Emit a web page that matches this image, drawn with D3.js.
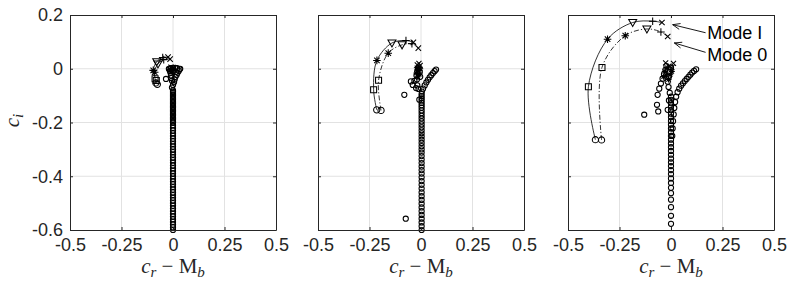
<!DOCTYPE html>
<html>
<head>
<meta charset="utf-8">
<script src="https://cdnjs.cloudflare.com/ajax/libs/d3/7.8.5/d3.min.js"></script>
<style>
  body { margin: 0; background: #fff; }
  svg { display: block; }
</style>
</head>
<body>
<script>
// axis ticks
const xTicks = [-0.5, -0.25, 0, 0.25, 0.5];
const xTickLabels = ["-0.5", "-0.25", "0", "0.25", "0.5"];
const yTicks = [0.2, 0, -0.2, -0.4, -0.6];
const yTickLabels = ["0.2", "0", "-0.2", "-0.4", "-0.6"];

// marker sequence along each mode curve
const modeMarkers = ["o", "s", "*", "v", "+", "x"];

// ---- left panel
const p1ModeI = [[-0.083,-0.053],[-0.087,-0.037],[-0.096,-0.006],[-0.079,0.026],[-0.050,0.042],[-0.024,0.043]];
const p1Mode0 = [[-0.076,-0.058],[-0.081,-0.044],[-0.089,-0.013],[-0.073,0.018],[-0.045,0.034],[-0.014,0.036]];
const p1Trunk = [-0.60,-0.59,-0.58,-0.57,-0.56,-0.55,-0.54,-0.53,-0.52,-0.51,-0.50,-0.49,-0.48,-0.47,-0.46,-0.45,-0.44,-0.43,-0.42,-0.41,
  -0.40,-0.39,-0.38,-0.37,-0.36,-0.35,-0.34,-0.33,-0.32,-0.31,-0.30,-0.29,-0.28,-0.27,-0.26,-0.25,-0.24,-0.23,-0.22,-0.21,
  -0.20,-0.195,-0.19,-0.185,-0.18,-0.175,-0.17,-0.165,-0.16,-0.155,-0.15,-0.145,-0.14,-0.135,-0.13,-0.125,-0.12,-0.115,
  -0.11,-0.105,-0.10,-0.095,-0.09,-0.085,-0.08];
const p1Circles = [[-0.005,-0.070],[0.000,-0.060],[0.005,-0.050],[-0.005,-0.045],[0.008,-0.040],[-0.008,-0.035],[0.012,-0.030],
  [-0.010,-0.025],[0.018,-0.022],[-0.012,-0.015],[0.022,-0.015],[-0.015,-0.008],[0.028,-0.008],[-0.018,-0.002],[0.032,-0.002],
  [-0.010,0.002],[0.000,0.003],[0.010,0.003],[0.020,0.002],[0.035,0.000],[-0.020,0.000],[-0.034,-0.038]];
const p1Stars = [[-0.012,-0.005],[-0.004,-0.012],[0.004,-0.004]];
const p1Crosses = [[-0.010,0.006],[0.002,0.004]];

// ---- middle panel
const p2ModeI = [[-0.215,-0.153],[-0.230,-0.078],[-0.214,0.031],[-0.141,0.096],[-0.073,0.105],[-0.037,0.098]];
const p2Mode0 = [[-0.194,-0.155],[-0.206,-0.043],[-0.159,0.058],[-0.092,0.089],[-0.044,0.093],[-0.013,0.077]];
const p2Trunk = [-0.600,-0.586,-0.572,-0.558,-0.544,-0.530,-0.516,-0.502,-0.488,-0.474,-0.460,-0.446,-0.432,-0.418,-0.404,
  -0.390,-0.377,-0.364,-0.351,-0.338,-0.325,-0.312,-0.300,-0.288,-0.276,-0.264,-0.252,-0.240,-0.229,-0.218,-0.207,
  -0.196,-0.185,-0.175,-0.165,-0.155,-0.145,-0.136,-0.127,-0.118,-0.110,-0.102,-0.094];
const p2Circles = [[0.004,-0.085],[0.010,-0.074],[0.018,-0.062],[0.026,-0.051],[0.034,-0.041],[0.042,-0.032],[0.050,-0.024],
  [0.058,-0.016],[0.066,-0.009],[0.073,-0.003],
  [-0.012,-0.075],[-0.018,-0.062],[-0.024,-0.072],[-0.040,-0.060],[-0.049,-0.047],[-0.032,-0.045],[-0.020,-0.040],
  [-0.022,-0.025],[-0.018,-0.010],[-0.014,0.002],[-0.006,-0.012],[-0.004,-0.030],[-0.008,-0.115],
  [-0.081,-0.097],[-0.074,-0.558]];
const p2Stars = [[-0.020,0.004],[-0.014,-0.006],[-0.022,-0.016],[-0.008,-0.020],[-0.016,-0.030],[-0.004,0.000]];
const p2Crosses = [[-0.018,0.014],[-0.004,0.012],[-0.010,0.020]];

// ---- right panel
const p3ModeI = [[-0.367,-0.264],[-0.401,-0.067],[-0.308,0.110],[-0.186,0.172],[-0.089,0.177],[-0.044,0.172]];
const p3Mode0 = [[-0.337,-0.265],[-0.335,0.005],[-0.222,0.123],[-0.117,0.148],[-0.049,0.137],[-0.016,0.120]];
const p3Trunk = [-0.577,-0.547,-0.515,-0.487,-0.463,-0.443,-0.425,-0.408,-0.392,-0.377,-0.362,-0.348,-0.334,-0.320,-0.306,
  -0.292,-0.278,-0.264,-0.250,-0.236,-0.222,-0.208,-0.194,-0.180,-0.167,-0.154,-0.141,-0.128,-0.116,-0.104];
const p3Circles = [[0.006,-0.250],[0.008,-0.222],[0.010,-0.195],[0.013,-0.170],[0.016,-0.146],[0.020,-0.124],[0.025,-0.104],
  [0.032,-0.087],[0.040,-0.074],[0.049,-0.063],[0.058,-0.054],[0.067,-0.046],[0.076,-0.038],[0.085,-0.030],[0.094,-0.022],
  [0.103,-0.014],[0.112,-0.008],[0.122,-0.002],
  [-0.065,-0.097],[-0.057,-0.074],[-0.049,-0.055],[-0.041,-0.037],[-0.034,-0.020],[-0.027,-0.004],[-0.022,0.010],
  [-0.016,-0.153],[-0.010,-0.118],[-0.006,-0.090],[-0.012,-0.068],[-0.016,-0.048],[-0.010,-0.030],[-0.006,-0.012],[0.000,0.004],
  [-0.130,-0.171],[-0.068,-0.134],[-0.062,-0.159]];
const p3Stars = [[-0.030,-0.010],[-0.024,-0.024],[-0.036,-0.030],[-0.012,-0.040],[-0.004,-0.022],[-0.018,0.004],[0.004,-0.010]];
const p3Crosses = [[-0.026,0.022],[0.012,0.020],[-0.010,0.010],[0.004,0.004]];

// annotation (right panel), data coords: label position, arrow tail, arrow head
const annLabels = ["Mode I", "Mode 0"];
const annText = [[0.176, 0.110], [0.176, 0.030]];
const annTail = [[0.168, 0.134], [0.168, 0.061]];
const annHead = [[0.008, 0.164], [0.016, 0.096]];

const panels = [
  { modeI: p1ModeI, mode0: p1Mode0, trunk: p1Trunk, trunkCr: 0.0, circles: p1Circles, stars: p1Stars, crosses: p1Crosses },
  { modeI: p2ModeI, mode0: p2Mode0, trunk: p2Trunk, trunkCr: 0.003, circles: p2Circles, stars: p2Stars, crosses: p2Crosses },
  { modeI: p3ModeI, mode0: p3Mode0, trunk: p3Trunk, trunkCr: 0.0, circles: p3Circles, stars: p3Stars, crosses: p3Crosses }
];

const W = 789, H = 285;
const panelLeft = [70, 318, 568];
const panelTop = 15, pw = 206, ph = 215;
const axisColor = "#262626";
const gridColor = "#e2e2e2";
const sans = "'Liberation Sans', Arial, sans-serif";
const serif = "'Liberation Serif', 'Times New Roman', serif";

const svg = d3.select("body").append("svg")
  .attr("width", W).attr("height", H);

function markerPath(type, s) {
  const p = d3.path();
  if (type === "o") { p.moveTo(s, 0); p.arc(0, 0, s, 0, 2 * Math.PI); }
  else if (type === "s") { p.rect(-s, -s, 2 * s, 2 * s); }
  else if (type === "v") { p.moveTo(-s, -s * 0.75); p.lineTo(s, -s * 0.75); p.lineTo(0, s); p.closePath(); }
  else if (type === "+") { p.moveTo(-s, 0); p.lineTo(s, 0); p.moveTo(0, -s); p.lineTo(0, s); }
  else if (type === "x") { const a = s * 0.8; p.moveTo(-a, -a); p.lineTo(a, a); p.moveTo(-a, a); p.lineTo(a, -a); }
  else if (type === "*") {
    const a = s * 0.72;
    p.moveTo(-s, 0); p.lineTo(s, 0); p.moveTo(0, -s); p.lineTo(0, s);
    p.moveTo(-a, -a); p.lineTo(a, a); p.moveTo(-a, a); p.lineTo(a, -a);
  }
  return p.toString();
}
const markerSize = { o: 3.1, s: 3, "*": 3.8, v: 4, "+": 3.8, x: 3.4 };

panels.forEach((p, i) => {
  const g = svg.append("g").attr("transform", `translate(${panelLeft[i]},${panelTop})`);
  const x = d3.scaleLinear().domain([-0.5, 0.5]).range([0, pw]);
  const y = d3.scaleLinear().domain([-0.6, 0.2]).range([ph, 0]);

  // grid
  g.append("g").selectAll("line").data(xTicks.slice(1, -1)).join("line")
    .attr("x1", d => x(d)).attr("x2", d => x(d)).attr("y1", 0).attr("y2", ph)
    .attr("stroke", gridColor).attr("stroke-width", 1);
  g.append("g").selectAll("line").data(yTicks.slice(1, -1)).join("line")
    .attr("y1", d => y(d)).attr("y2", d => y(d)).attr("x1", 0).attr("x2", pw)
    .attr("stroke", gridColor).attr("stroke-width", 1);

  // spectrum
  const trunkPts = p.trunk.map(ci => [p.trunkCr, ci]);
  const spec = g.append("g").attr("fill", "none").attr("stroke", "#000").attr("stroke-width", 1.05);
  spec.selectAll("circle").data(trunkPts.concat(p.circles)).join("circle")
    .attr("cx", d => x(d[0])).attr("cy", d => y(d[1])).attr("r", 2.6);
  spec.selectAll("path.st").data(p.stars).join("path").attr("class", "st")
    .attr("transform", d => `translate(${x(d[0])},${y(d[1])})`)
    .attr("d", markerPath("*", 3));
  spec.selectAll("path.cr").data(p.crosses).join("path").attr("class", "cr")
    .attr("transform", d => `translate(${x(d[0])},${y(d[1])})`)
    .attr("d", markerPath("x", 3.2));

  // mode curves
  const line = d3.line().x(d => x(d[0])).y(d => y(d[1])).curve(d3.curveCatmullRom.alpha(0.5));
  g.append("path").datum(p.modeI).attr("d", line)
    .attr("fill", "none").attr("stroke", "#000").attr("stroke-width", 0.8);
  g.append("path").datum(p.mode0).attr("d", line)
    .attr("fill", "none").attr("stroke", "#000").attr("stroke-width", 0.8)
    .attr("stroke-dasharray", "5,2,1.2,2");

  [p.modeI, p.mode0].forEach(pts => {
    g.append("g").selectAll("path").data(pts).join("path")
      .attr("transform", d => `translate(${x(d[0])},${y(d[1])})`)
      .attr("d", (d, k) => markerPath(modeMarkers[k], markerSize[modeMarkers[k]]))
      .attr("fill", "none").attr("stroke", "#000").attr("stroke-width", 1.05);
  });

  // axes
  const styleAxis = sel => {
    sel.attr("font-family", sans).attr("font-size", 18);
    sel.selectAll("path.domain").attr("stroke", axisColor);
    sel.selectAll(".tick line").attr("stroke", axisColor);
    sel.selectAll(".tick text").attr("fill", "#262626");
  };
  g.append("g").attr("transform", `translate(0,${ph})`)
    .call(d3.axisBottom(x).tickValues(xTicks).tickFormat((d, k) => xTickLabels[k])
      .tickSizeInner(-3).tickSizeOuter(0).tickPadding(8))
    .call(styleAxis);
  g.append("g")
    .call(d3.axisTop(x).tickValues(xTicks).tickFormat("").tickSizeInner(-3).tickSizeOuter(0))
    .call(styleAxis);
  g.append("g")
    .call(d3.axisLeft(y).tickValues(yTicks).tickFormat((d, k) => i === 0 ? yTickLabels[k] : "")
      .tickSizeInner(-3).tickSizeOuter(0).tickPadding(7))
    .call(styleAxis);
  g.append("g").attr("transform", `translate(${pw},0)`)
    .call(d3.axisRight(y).tickValues(yTicks).tickFormat("").tickSizeInner(-3).tickSizeOuter(0))
    .call(styleAxis);

  // x label
  const xl = g.append("text").attr("x", pw / 2).attr("y", ph + 43)
    .attr("text-anchor", "middle").attr("font-family", serif).attr("font-size", 21).attr("fill", "#262626");
  xl.append("tspan").attr("font-style", "italic").text("c");
  xl.append("tspan").attr("font-style", "italic").attr("font-size", 15).attr("dy", 4).text("r");
  xl.append("tspan").attr("dy", -4).text(" \u2212 M");
  xl.append("tspan").attr("font-style", "italic").attr("font-size", 15).attr("dy", 4).text("b");

  if (i === 0) {
    const yl = g.append("text").attr("transform", `translate(-51,${ph / 2 - 2}) rotate(-90)`)
      .attr("text-anchor", "middle").attr("font-family", serif).attr("font-size", 21).attr("fill", "#262626");
    yl.append("tspan").attr("font-style", "italic").text("c");
    yl.append("tspan").attr("font-style", "italic").attr("font-size", 15).attr("dy", 4).text("i");
  }

  if (i === 2) {
    const ann = g.append("g");
    annLabels.forEach((lab, k) => {
      const tx = x(annTail[k][0]), ty = y(annTail[k][1]);
      const hx = x(annHead[k][0]), hy = y(annHead[k][1]);
      const ang = Math.atan2(ty - hy, tx - hx);
      const L = 8, spread = 0.38;
      ann.append("path")
        .attr("d", `M${tx},${ty}L${hx},${hy}` +
          `M${hx + L * Math.cos(ang + spread)},${hy + L * Math.sin(ang + spread)}L${hx},${hy}` +
          `L${hx + L * Math.cos(ang - spread)},${hy + L * Math.sin(ang - spread)}`)
        .attr("fill", "none").attr("stroke", "#000").attr("stroke-width", 0.9);
      ann.append("text").attr("x", x(annText[k][0])).attr("y", y(annText[k][1]))
        .attr("font-family", sans).attr("font-size", 18).attr("fill", "#000").text(lab);
    });
  }
});
</script>
</body>
</html>
